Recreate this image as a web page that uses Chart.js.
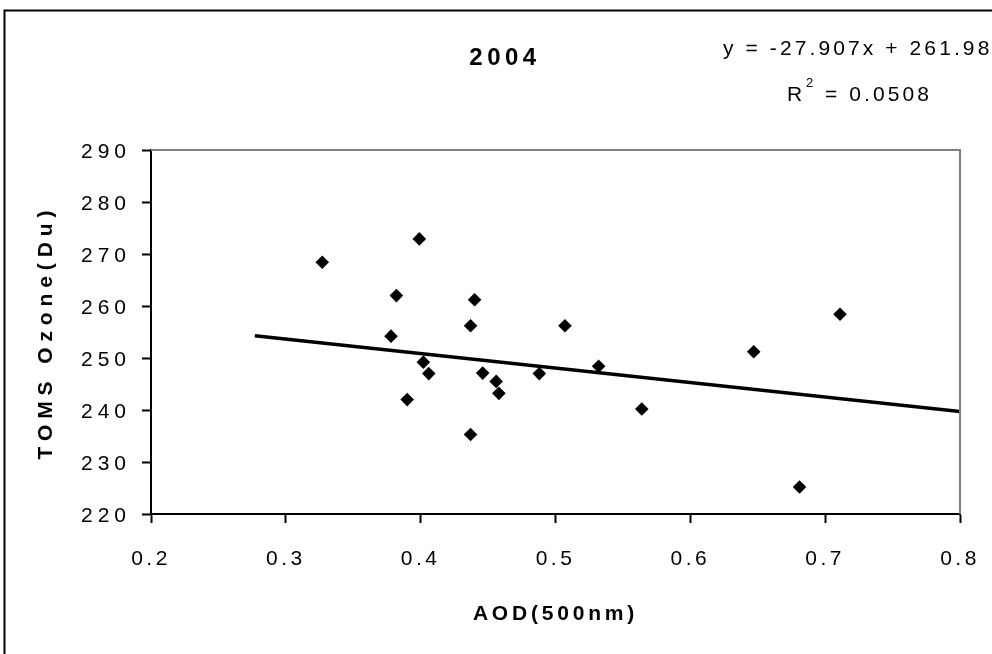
<!DOCTYPE html>
<html>
<head>
<meta charset="utf-8">
<script src="https://cdn.jsdelivr.net/npm/chart.js@4.4.1/dist/chart.umd.min.js"></script>
<style>
html,body{margin:0;padding:0;background:#fff;}
#wrap{width:992px;height:654px;position:relative;overflow:hidden;}
canvas{display:block;}
</style>
</head>
<body>
<div id="wrap"><canvas id="c" width="992" height="654"></canvas></div>
<script>
// ---- data ----
const aod   = [0.327, 0.378, 0.382, 0.390, 0.399, 0.402, 0.406, 0.437, 0.437, 0.440,
               0.446, 0.456, 0.458, 0.488, 0.507, 0.532, 0.564, 0.647, 0.681, 0.711];
const ozone = [268.4, 254.2, 262.0, 242.0, 272.9, 249.2, 247.0, 256.2, 235.3, 261.2,
               247.1, 245.5, 243.2, 247.0, 256.2, 248.4, 240.2, 251.2, 225.2, 258.4];
const trendX = [0.277, 0.8];
const trendY = [254.3, 239.7];
const xTicks = [0.2, 0.3, 0.4, 0.5, 0.6, 0.7, 0.8];
const yTicks = [220, 230, 240, 250, 260, 270, 280, 290];
const chartTitle = '2004';
const equationText = 'y = -27.907x + 261.98';
const r2Text = '0.0508';
const xTitle = 'AOD(500nm)';
const yTitle = 'TOMS Ozone(Du)';

const FONT = '"Liberation Sans", Arial, Helvetica, sans-serif';

// per-scale letter spacing for tick labels and titles
const spacing = {
  x: {labels: '3.5px', title: '3.8px'},
  y: {labels: '5px', title: '5.9px'}
};

const decorPlugin = {
  id: 'decor',
  afterLayout(chart) {
    Object.keys(spacing).forEach(id => {
      const sc = chart.scales[id];
      if (!sc || sc._spaced) return;
      sc._spaced = true;
      const proto = Object.getPrototypeOf(sc);
      sc.drawLabels = function (area) {
        const prev = this.ctx.letterSpacing;
        this.ctx.letterSpacing = spacing[id].labels;
        proto.drawLabels.call(this, area);
        this.ctx.letterSpacing = prev;
      };
      sc.drawTitle = function () {
        const prev = this.ctx.letterSpacing;
        this.ctx.letterSpacing = spacing[id].title;
        proto.drawTitle.call(this);
        this.ctx.letterSpacing = prev;
      };
    });
  },
  afterDraw(chart) {
    const ctx = chart.ctx;
    const a = chart.chartArea;
    ctx.save();
    // outer frame (top/left visible)
    ctx.strokeStyle = '#000';
    ctx.lineWidth = 2;
    ctx.strokeRect(4.5, 10.5, 1200, 1200);
    // gray plot border top/right
    ctx.strokeStyle = '#808080';
    ctx.lineWidth = 2;
    ctx.beginPath();
    ctx.moveTo(a.left, a.top);
    ctx.lineTo(a.right, a.top);
    ctx.lineTo(a.right, a.bottom);
    ctx.stroke();
    // title
    ctx.fillStyle = '#000';
    ctx.letterSpacing = '4.5px';
    ctx.font = 'bold 24px ' + FONT;
    ctx.textAlign = 'center';
    ctx.textBaseline = 'middle';
    ctx.fillText(chartTitle, 505, 58);
    // trendline equation
    ctx.letterSpacing = '3.1px';
    ctx.font = '21px ' + FONT;
    ctx.textAlign = 'left';
    ctx.textBaseline = 'alphabetic';
    ctx.fillText(equationText, 723, 55);
    ctx.fillText('R', 787, 101);
    ctx.font = '13px ' + FONT;
    ctx.fillText('2', 806, 87);
    ctx.font = '21px ' + FONT;
    ctx.fillText('= ' + r2Text, 825, 101);
    ctx.restore();
  }
};

const chart = new Chart(document.getElementById('c').getContext('2d'), {
  type: 'scatter',
  data: {
    datasets: [
      {
        label: 'Linear (TOMS Ozone)',
        data: trendX.map((x, i) => ({x: x, y: trendY[i]})),
        showLine: true,
        borderColor: '#000',
        borderWidth: 3.5,
        pointRadius: 0,
        fill: false,
        order: 1
      },
      {
        label: 'TOMS Ozone',
        data: aod.map((x, i) => ({x: x, y: ozone[i]})),
        pointStyle: 'rectRot',
        pointRadius: 6.8,
        backgroundColor: '#000',
        borderColor: '#000',
        borderWidth: 0,
        order: 0
      }
    ]
  },
  options: {
    responsive: false,
    animation: false,
    devicePixelRatio: 1,
    layout: {padding: {top: 150, right: 32, bottom: 0, left: 0}},
    plugins: {legend: {display: false}, tooltip: {enabled: false}, title: {display: false}},
    scales: {
      x: {
        type: 'linear',
        min: 0.2, max: 0.8,
        afterBuildTicks: s => { s.ticks = xTicks.map(v => ({value: v})); },
        afterFit: s => { s.height = 140; s.paddingLeft = 0; s.paddingRight = 0; },
        grid: {drawOnChartArea: false, drawTicks: true, tickLength: 9, tickWidth: 2, tickColor: '#000'},
        border: {display: true, color: '#000', width: 2},
        ticks: {
          color: '#000', font: {family: FONT, size: 21}, padding: 24,
          maxRotation: 0, autoSkip: false,
          callback: v => Number(v).toFixed(1)
        },
        title: {
          display: true, text: xTitle, color: '#000',
          font: {family: FONT, size: 21, weight: 'bold'},
          padding: {top: 0, bottom: 27}
        }
      },
      y: {
        type: 'linear',
        min: 220, max: 290,
        afterBuildTicks: s => { s.ticks = yTicks.map(v => ({value: v})); },
        afterFit: s => { s.width = 151; s.paddingTop = 0; s.paddingBottom = 0; },
        grid: {drawOnChartArea: false, drawTicks: true, tickLength: 9, tickWidth: 2, tickColor: '#000'},
        border: {display: true, color: '#000', width: 2},
        ticks: {
          color: '#000', font: {family: FONT, size: 21}, padding: 11,
          labelOffset: 2, autoSkip: false,
          callback: v => String(v)
        },
        title: {
          display: true, text: yTitle, color: '#000',
          font: {family: FONT, size: 21, weight: 'bold'},
          padding: {top: 34, bottom: 0}
        }
      }
    }
  },
  plugins: [decorPlugin]
});
</script>
</body>
</html>
